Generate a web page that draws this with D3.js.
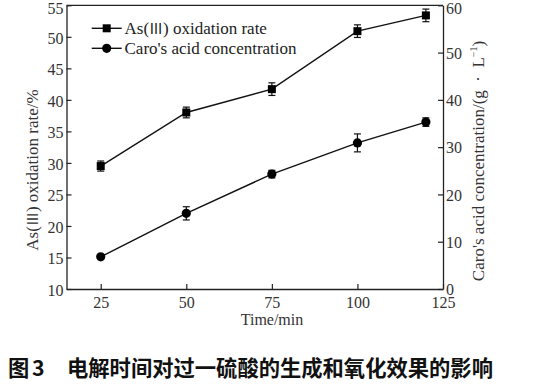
<!DOCTYPE html>
<html><head><meta charset="utf-8">
<script src="https://cdn.jsdelivr.net/npm/d3@7"></script>
<style>body{margin:0;background:#fff}svg{display:block}</style>
</head><body>
<svg id="c" width="535" height="386"></svg>
<script>
const times = [25, 50, 75, 100, 120];
const oxidationRate = [29.5, 38.0, 41.7, 50.9, 53.4];
const oxidationErr = [0.8, 0.85, 1.0, 1.0, 1.0];
const caroConc = [6.8, 16.0, 24.3, 30.9, 35.3];
const caroErr = [0.3, 1.4, 0.8, 1.9, 0.9];
const xTicks = [25, 50, 75, 100, 125];
const leftTicks = [10, 15, 20, 25, 30, 35, 40, 45, 50, 55];
const rightTicks = [0, 10, 20, 30, 40, 50, 60];
const seriesNames = [["As(", "\u2162", ") oxidation rate"], ["Caro's acid concentration", "", ""]];

const svg = d3.select("#c");
const L = 66.5, R = 443, T = 5.3, B = 289;
const serif = "'Liberation Serif','DejaVu Serif',serif";
const cjk = "'Noto Sans CJK SC',sans-serif";
const x = d3.scaleLinear().domain([15, 125]).range([L, R]);
const yL = d3.scaleLinear().domain([10, 55]).range([B, T]);
const yR = d3.scaleLinear().domain([0, 60]).range([B, T]);

function styleAxis(g) {
  g.selectAll("path").attr("stroke", "#222").attr("stroke-width", 1.3);
  g.selectAll("line").attr("stroke", "#222").attr("stroke-width", 1.2);
  g.selectAll("text").attr("font-family", serif).attr("font-size", 16).attr("fill", "#333");
}
svg.append("line").attr("x1", L).attr("x2", R).attr("y1", T).attr("y2", T)
  .attr("stroke", "#222").attr("stroke-width", 1.3);

const gx = svg.append("g").attr("transform", `translate(0,${B})`)
  .call(d3.axisBottom(x).tickValues(xTicks).tickSizeInner(-5).tickSizeOuter(0).tickPadding(8));
styleAxis(gx);
const gl = svg.append("g").attr("transform", `translate(${L},0)`)
  .call(d3.axisLeft(yL).tickValues(leftTicks).tickSizeInner(-5).tickSizeOuter(0).tickPadding(3));
styleAxis(gl);
gl.selectAll("text").attr("dy", d => d === 55 ? "0.5em" : "0.4em");
const gr = svg.append("g").attr("transform", `translate(${R},0)`)
  .call(d3.axisRight(yR).tickValues(rightTicks).tickSizeInner(-5).tickSizeOuter(0).tickPadding(3));
styleAxis(gr);
gr.selectAll("text").attr("dy", d => d === 60 ? "0.5em" : "0.36em");

svg.append("text").attr("x", 272).attr("y", 325).attr("text-anchor", "middle")
  .attr("font-family", serif).attr("font-size", 16).attr("fill", "#333").text("Time/min");
const lt = svg.append("text").attr("transform", "translate(38,170) rotate(-90)").attr("text-anchor", "middle")
  .attr("font-family", serif).attr("font-size", 17).attr("fill", "#333");
lt.append("tspan").attr("font-family", serif).text("As(");
lt.append("tspan").attr("font-family", cjk).attr("font-size", 14).text("\u2162");
lt.append("tspan").attr("font-family", serif).text(") oxidation rate/%");
const rt = svg.append("text").attr("transform", "translate(484,161) rotate(-90)").attr("text-anchor", "middle")
  .attr("font-family", serif).attr("font-size", 17).attr("fill", "#333");
rt.append("tspan").attr("font-family", serif).text("Caro's acid concentration/(g \u00a0\u00b7\u00a0 L");
rt.append("tspan").attr("font-family", serif).attr("font-size", 10).attr("dy", -7).text("\u22121");
rt.append("tspan").attr("font-family", serif).attr("dy", 7).text(")");

function drawSeries(vals, errs, y, shape) {
  const pts = times.map((t, i) => ({ t, v: vals[i], e: errs[i] }));
  svg.append("path").datum(pts).attr("fill", "none").attr("stroke", "#111").attr("stroke-width", 1.4)
    .attr("d", d3.line().x(d => x(d.t)).y(d => y(d.v)));
  const g = svg.append("g");
  pts.forEach(d => {
    const cx = x(d.t);
    g.append("line").attr("x1", cx).attr("x2", cx).attr("y1", y(d.v - d.e)).attr("y2", y(d.v + d.e))
      .attr("stroke", "#111").attr("stroke-width", 1.2);
    [d.v - d.e, d.v + d.e].forEach(v => g.append("line").attr("x1", cx - 3.5).attr("x2", cx + 3.5)
      .attr("y1", y(v)).attr("y2", y(v)).attr("stroke", "#111").attr("stroke-width", 1.2));
    if (shape === "square") g.append("rect").attr("x", cx - 4).attr("y", y(d.v) - 4).attr("width", 8).attr("height", 8).attr("fill", "#000");
    else g.append("circle").attr("cx", cx).attr("cy", y(d.v)).attr("r", 4.6).attr("fill", "#000");
  });
}
drawSeries(oxidationRate, oxidationErr, yL, "square");
drawSeries(caroConc, caroErr, yR, "circle");

seriesNames.forEach((parts, i) => {
  const ly = 28.3 + i * 20;
  svg.append("line").attr("x1", 91.7).attr("x2", 121.7).attr("y1", ly).attr("y2", ly).attr("stroke", "#111").attr("stroke-width", 1.4);
  if (i === 0) svg.append("rect").attr("x", 102.7).attr("y", ly - 4).attr("width", 8).attr("height", 8).attr("fill", "#000");
  else svg.append("circle").attr("cx", 106.7).attr("cy", ly).attr("r", 4.6).attr("fill", "#000");
  const t = svg.append("text").attr("x", 124.5).attr("y", ly + 5.5).attr("font-family", serif).attr("font-size", 17)
    .attr("fill", "#222");
  t.append("tspan").attr("font-family", serif).text(parts[0]);
  if (parts[1]) t.append("tspan").attr("font-family", cjk).attr("font-size", 14).text(parts[1]);
  if (parts[2]) t.append("tspan").attr("font-family", serif).text(parts[2]);
});

const cap = svg.append("text").attr("y", 376).attr("font-family", cjk)
  .attr("font-size", 21.3).attr("font-weight", "bold").attr("fill", "#111");
cap.append("tspan").attr("x", 8).text("图");
cap.append("tspan").attr("x", 32).text("3");
cap.append("tspan").attr("x", 67).text("电解时间对过一硫酸的生成和氧化效果的影响");
</script>
</body></html>
